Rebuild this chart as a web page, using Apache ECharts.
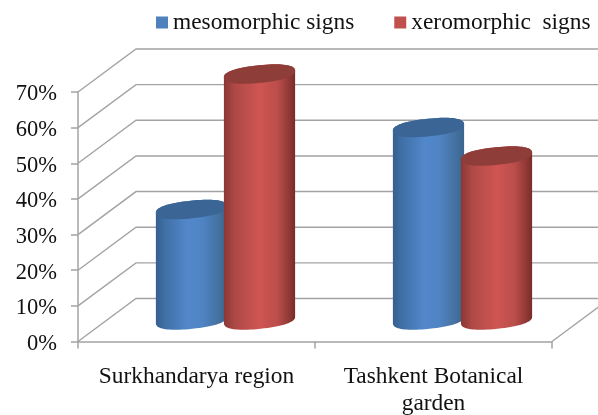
<!DOCTYPE html>
<html>
<head>
<meta charset="utf-8">
<style>html,body{margin:0;padding:0;background:#fff}#c{width:598px;height:415px}</style>
<script src="https://cdn.jsdelivr.net/npm/echarts@6/dist/echarts.min.js"></script>
</head>
<body>
<div id="c"></div>
<script>
const categories = ['Surkhandarya region', 'Tashkent Botanical\ngarden'];
const mesomorphic = [31, 54];
const xeromorphic = [69, 46];
const yTicks = [0, 10, 20, 30, 40, 50, 60, 70];
const seriesNames = ['mesomorphic signs', 'xeromorphic  signs'];

const FONT = '"Liberation Serif"';
const DEPTH_X = 58, DEPTH_Y = -43, LINE = '#a3a3a3';

function ellipsePts(cx, cy, a, b, from, to, n) {
  const th = 5.8 * Math.PI / 180, pts = [], p = 0.86;
  for (let i = 0; i <= n; i++) {
    const t = from + (to - from) * i / n;
    const c = Math.sign(Math.cos(t)) * Math.pow(Math.abs(Math.cos(t)), p);
    const s = Math.sign(Math.sin(t)) * Math.pow(Math.abs(Math.sin(t)), p);
    pts.push([
      cx + a * c * Math.cos(th) + b * s * Math.sin(th),
      cy - a * c * Math.sin(th) + b * s * Math.cos(th)
    ]);
  }
  return pts;
}

function gradient(stops) {
  return { type: 'linear', x: 0, y: 0, x2: 1, y2: 0,
    colorStops: stops.map(s => ({ offset: s[0], color: s[1] })) };
}

function cylinderRenderer(side, bodyStops, topColor) {
  return function (params, api) {
    const cat = api.value(0), val = api.value(1);
    const band = api.size([1, 0])[0];
    const top = api.coord([cat, val]);
    const base = api.coord([cat, 0]);
    const cx = top[0] + DEPTH_X / 2 + side * band * 0.1435;
    const dy = DEPTH_Y / 2;
    const a = band * 0.151, b = 8.8;
    const body = ellipsePts(cx, base[1] + dy, a, b, 0, Math.PI, 40)
      .concat(ellipsePts(cx, top[1] + dy, a, b, Math.PI, 2 * Math.PI, 40));
    const lid = ellipsePts(cx, top[1] + dy, a, b, 0, 2 * Math.PI, 80);
    return { type: 'group', children: [
      { type: 'polygon', shape: { points: body }, style: { fill: gradient(bodyStops) } },
      { type: 'polygon', shape: { points: lid }, style: { fill: topColor } }
    ]};
  };
}

function wallRenderer(params, api) {
  const v = api.value(0);
  const cs = params.coordSys;
  const y = api.coord([0, v])[1];
  const x0 = cs.x, x1 = cs.x + cs.width;
  const children = [{
    type: 'polyline',
    shape: { points: [[x0, y], [x0 + DEPTH_X, y + DEPTH_Y], [x1 + DEPTH_X, y + DEPTH_Y]] },
    style: { fill: null, stroke: LINE, lineWidth: 1.4 }
  }];
  if (v === 0) {
    children.push({
      type: 'line',
      shape: { x1: x1, y1: y, x2: x1 + DEPTH_X, y2: y + DEPTH_Y },
      style: { stroke: LINE, lineWidth: 1.4 }
    });
  }
  return { type: 'group', children };
}

const chart = echarts.init(document.getElementById('c'), null, { renderer: 'canvas' });
chart.setOption({
  animation: false,
  backgroundColor: '#fff',
  legend: {
    data: seriesNames,
    left: 156, top: 11, padding: 0,
    icon: 'rect',
    itemWidth: 12, itemHeight: 12, itemGap: 40,
    textStyle: { fontFamily: FONT, fontSize: 23.4, color: '#111' },
    selectedMode: false
  },
  grid: { left: 78, right: 46, top: 92, bottom: 73.5, outerBoundsMode: 'none' },
  xAxis: {
    type: 'category',
    data: categories,
    axisLine: { lineStyle: { color: LINE, width: 1.5 } },
    axisTick: { show: true, length: 7, lineStyle: { color: LINE, width: 1.5 } },
    axisLabel: { fontFamily: FONT, fontSize: 23.4, color: '#111', margin: 22, lineHeight: 27, interval: 0 }
  },
  yAxis: {
    type: 'value', min: 0, max: 70, interval: 10,
    axisLine: { show: true, lineStyle: { color: LINE, width: 1.5 } },
    axisTick: { show: true, length: 7, lineStyle: { color: LINE, width: 1.5 } },
    splitLine: { show: false },
    axisLabel: { formatter: '{value}%', fontFamily: FONT, fontSize: 22.5, color: '#111', margin: 21, verticalAlign: 'top', lineHeight: 5 }
  },
  series: [
    { type: 'custom', name: 'walls', coordinateSystem: 'cartesian2d', renderItem: wallRenderer,
      data: yTicks.map(v => [v]), encode: { y: 0 }, silent: true, z: 1 },
    { type: 'custom', name: seriesNames[0], coordinateSystem: 'cartesian2d',
      itemStyle: { color: '#4f81bd' }, z: 2,
      renderItem: cylinderRenderer(-1, [[0, '#355f8f'], [0.12, '#3f6fa5'], [0.45, '#5288cb'], [0.65, '#4f84c4'], [0.88, '#44719f'], [1, '#3a6490']], '#3a6594'),
      data: mesomorphic.map((v, i) => [i, v]) },
    { type: 'custom', name: seriesNames[1], coordinateSystem: 'cartesian2d',
      itemStyle: { color: '#c0504d' }, z: 3,
      renderItem: cylinderRenderer(1, [[0, '#8a3835'], [0.15, '#ad4946'], [0.5, '#cf5552'], [0.75, '#bb4e4b'], [0.92, '#8f3835'], [1, '#782c2a']], '#8e3d39'),
      data: xeromorphic.map((v, i) => [i, v]) }
  ]
});
</script>
</body>
</html>
